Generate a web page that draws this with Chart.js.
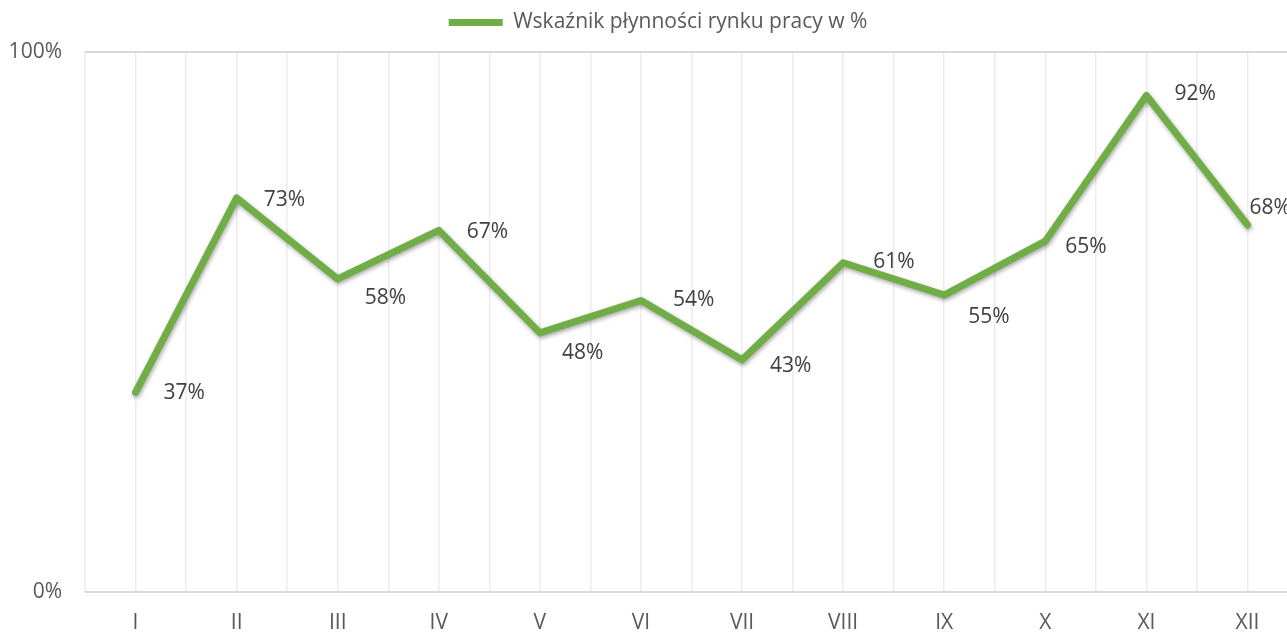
<!DOCTYPE html>
<html lang="pl">
  <head>
    <meta charset="UTF-8" />
    <title>Wskaźnik płynności rynku pracy</title>
    <style>
      html, body { margin: 0; padding: 0; background: #fff; overflow: hidden; }
      #wrap { width: 1316px; height: 632px; }
    </style>
  </head>
  <body>
    <div id="wrap"><canvas id="myChart" width="1316" height="632"></canvas></div>
  </body>
  <script src="https://cdn.jsdelivr.net/npm/chart.js"></script>
  <script>
    // months as roman numerals and the index values in %
    let months = ["I", "II", "III", "IV", "V", "VI", "VII", "VIII", "IX", "X", "XI", "XII"];
    let values = [37, 73, 58, 67, 48, 54, 43, 61, 55, 65, 92, 68];
    let yTicks = [0, 100];

    let green = "#70ad47";
    let font = "'Open Sans', sans-serif";

    // label nudges (dx from point to text start, dy from point to text middle)
    let labelDx = [28, 27, 27, 28, 22, 32, 28, 30, 24, 20, 28, 2];
    let labelDy = [1, 2, 19, 2, 20, 0, 6, -1, 22, 6, -1, -17];

    // soft shadow under the line, like in Excel
    let lineShadow = {
      id: "lineShadow",
      beforeDatasetDraw(chart) {
        let ctx = chart.ctx;
        ctx.save();
        ctx.shadowColor = "rgba(0,0,0,0.35)";
        ctx.shadowBlur = 4;
        ctx.shadowOffsetX = 1;
        ctx.shadowOffsetY = 2;
      },
      afterDatasetDraw(chart) {
        chart.ctx.restore();
      },
    };

    let valueLabels = {
      id: "valueLabels",
      afterDatasetsDraw(chart) {
        let ctx = chart.ctx;
        let meta = chart.getDatasetMeta(0);
        ctx.save();
        ctx.font = "21px " + font;
        ctx.fillStyle = "#404040";
        ctx.textAlign = "left";
        ctx.textBaseline = "middle";
        meta.data.forEach((pt, i) => {
          ctx.fillText(values[i] + "%", pt.x + labelDx[i], pt.y + labelDy[i]);
        });
        ctx.restore();
      },
    };

    var ctx = document.getElementById("myChart").getContext("2d");
    var chart = new Chart(ctx, {
      type: "line",
      data: {
        datasets: [
          {
            label: "Wskaźnik płynności rynku pracy w %",
            data: values.map((v, i) => ({ x: i, y: v })),
            borderColor: green,
            backgroundColor: green,
            borderWidth: 7,
            borderCapStyle: "round",
            borderJoinStyle: "round",
            pointRadius: 0,
            tension: 0,
          },
        ],
      },
      options: {
        responsive: false,
        animation: false,
        layout: { padding: { top: 0, right: 0, bottom: 0, left: 0 } },
        plugins: {
          tooltip: { enabled: false },
          legend: {
            display: true,
            position: "top",
            labels: {
              usePointStyle: true,
              pointStyle: "line",
              pointStyleWidth: 54,
              boxHeight: 6,
              padding: 12,
              color: "#595959",
              font: { family: font, size: 21 },
            },
          },
          // empty spacer under the legend
          subtitle: {
            display: true,
            text: "",
            position: "top",
            weight: 500,
            font: { size: 1 },
            padding: { top: 4, bottom: 4 },
          },
        },
        scales: {
          x: {
            type: "linear",
            min: -0.5,
            max: 11.5,
            afterFit: (s) => { s.height = 40; },
            grid: { color: "#ececec", lineWidth: 1.5, drawTicks: false },
            border: { display: false },
            ticks: {
              stepSize: 0.5,
              autoSkip: false,
              maxRotation: 0,
              padding: 18,
              color: "#595959",
              font: { family: font, size: 21 },
              callback: (v) => (Number.isInteger(v) ? months[v] : ""),
            },
          },
          y: {
            min: yTicks[0],
            max: yTicks[1],
            afterFit: (s) => { s.width = 85; },
            afterBuildTicks: (s) => { s.ticks = yTicks.map((v) => ({ value: v })); },
            grid: { color: "#d9d9d9", lineWidth: 2, drawTicks: false },
            border: { display: false },
            ticks: {
              padding: 23,
              color: "#595959",
              font: { family: font, size: 21 },
              callback: (v) => v + "%",
            },
          },
        },
      },
      plugins: [lineShadow, valueLabels],
    });
  </script>
</html>
